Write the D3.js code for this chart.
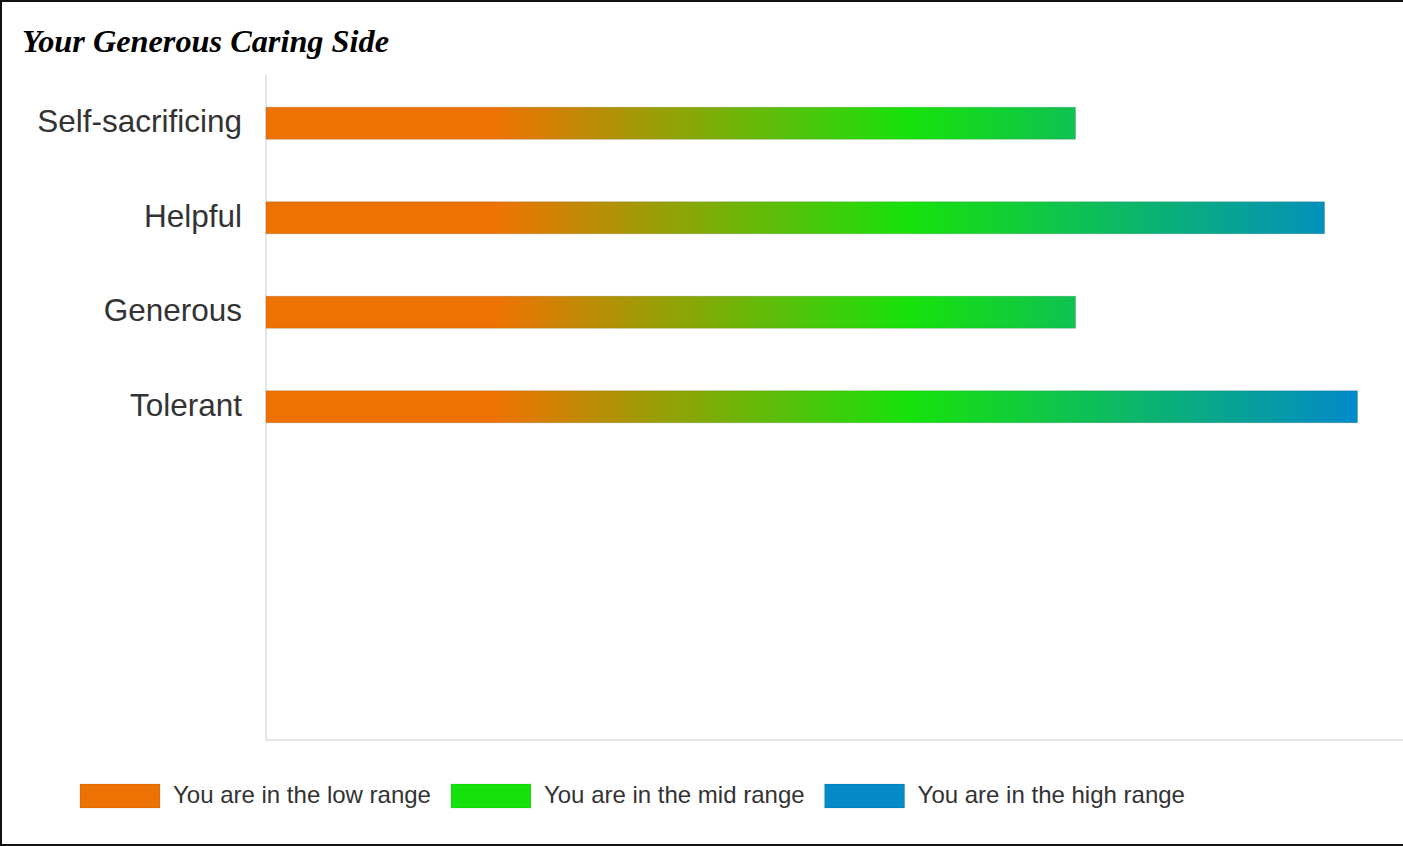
<!DOCTYPE html>
<html>
<head>
<meta charset="utf-8">
<script src="https://cdn.jsdelivr.net/npm/d3@7"></script>
<style>
  html, body { margin: 0; padding: 0; background: #fff; }
  svg { display: block; }
</style>
</head>
<body>
<svg id="chart" width="1403" height="846"></svg>
<script>
const title = "Your Generous Caring Side";
const categories = ["Self-sacrificing", "Helpful", "Generous", "Tolerant"];
const values = [71.2, 93.1, 71.2, 96];
const legendLabels = ["You are in the low range", "You are in the mid range", "You are in the high range"];
const legendColors = ["#ee7203", "#16e20b", "#068bc9"];
const gradientStops = [
  { offset: 0, color: "#ee7203" },
  { offset: 0.21, color: "#ee7203" },
  { offset: 0.59, color: "#16e20b" },
  { offset: 1, color: "#028ac9" }
];

const W = 1403, H = 846;
const svg = d3.select("#chart");

// frame
svg.append("line").attr("x1", 1).attr("x2", 1).attr("y1", 0).attr("y2", H).attr("stroke", "#111").attr("stroke-width", 2);
svg.append("line").attr("x1", 0).attr("x2", W).attr("y1", 1).attr("y2", 1).attr("stroke", "#111").attr("stroke-width", 2);
svg.append("line").attr("x1", 0).attr("x2", W).attr("y1", H - 1).attr("y2", H - 1).attr("stroke", "#111").attr("stroke-width", 2);

// title
svg.append("text")
  .attr("x", 22).attr("y", 52)
  .attr("font-family", "'Liberation Serif', 'Times New Roman', serif")
  .attr("font-weight", "bold").attr("font-style", "italic")
  .attr("font-size", 32.3).attr("fill", "#000")
  .text(title);

const plotLeft = 266, plotRight = 1403, plotTop = 75, plotBottom = 740;
const x = d3.scaleLinear().domain([0, 100]).range([plotLeft, plotRight]);
const y = d3.scaleBand().domain(categories).range([plotTop + 1, plotTop + 1 + 94.5 * categories.length]).paddingInner(0.661).paddingOuter(0.3305);

// gradient
const defs = svg.append("defs");
const grad = defs.append("linearGradient")
  .attr("id", "barGrad")
  .attr("gradientUnits", "userSpaceOnUse")
  .attr("x1", x(0)).attr("x2", x(d3.max(values)))
  .attr("y1", 0).attr("y2", 0);
grad.selectAll("stop").data(gradientStops).join("stop")
  .attr("offset", d => d.offset).attr("stop-color", d => d.color);

// axes lines
svg.append("line").attr("x1", plotLeft).attr("x2", plotLeft).attr("y1", plotTop).attr("y2", plotBottom)
  .attr("stroke", "#e4e4e4").attr("stroke-width", 2);
svg.append("line").attr("x1", plotLeft).attr("x2", plotRight).attr("y1", plotBottom).attr("y2", plotBottom)
  .attr("stroke", "#e4e4e4").attr("stroke-width", 2);

// bars
svg.selectAll("rect.bar").data(categories).join("rect")
  .attr("class", "bar")
  .attr("x", x(0))
  .attr("y", d => y(d))
  .attr("width", (d, i) => x(values[i]) - x(0))
  .attr("height", y.bandwidth())
  .attr("fill", "url(#barGrad)")
  .attr("stroke", "rgba(0,0,0,0.12)").attr("stroke-width", 1);

// category labels
const yAxis = d3.axisLeft(y).tickSize(0).tickPadding(24);
const gy = svg.append("g").attr("transform", `translate(${plotLeft},0)`).call(yAxis);
gy.select(".domain").remove();
gy.selectAll("text")
  .attr("font-family", "'Liberation Sans', Arial, sans-serif")
  .attr("font-size", 31.5).attr("fill", "#333")
  .attr("dy", "0.28em");

// legend
const lg = svg.append("g").attr("transform", "translate(80,784)");
let lx = 0;
legendLabels.forEach((lab, i) => {
  const g = lg.append("g").attr("transform", `translate(${lx},0)`);
  g.append("rect").attr("width", 80).attr("height", 24).attr("fill", legendColors[i])
    .attr("stroke", "rgba(0,0,0,0.1)").attr("stroke-width", 1);
  const t = g.append("text").attr("x", 93).attr("y", 19)
    .attr("font-family", "'Liberation Sans', Arial, sans-serif")
    .attr("font-size", 24).attr("fill", "#333").text(lab);
  lx += 93 + t.node().getComputedTextLength() + 20;
});
</script>
</body>
</html>
